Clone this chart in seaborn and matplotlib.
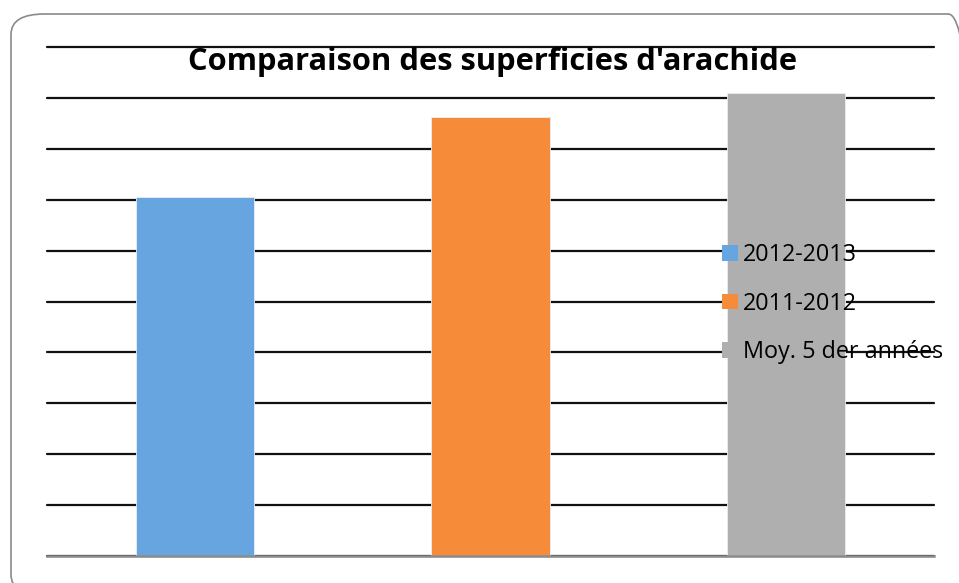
import matplotlib
matplotlib.use("Agg")
import matplotlib.pyplot as plt
from matplotlib.patches import FancyBboxPatch, Patch
import seaborn as sns
import pandas as pd

# values (grid step = 1 unit, no labels shown)
campagnes = ["2012-2013", "2011-2012", "Moy. 5 der années"]
superficies = [7.05, 8.62, 9.10]
couleurs = ["#66A5E0", "#F68B3A", "#AFAFAF"]

df = pd.DataFrame({"campagne": campagnes, "superficie": superficies})

sns.set_style("white")
plt.rcParams["font.family"] = ["Open Sans", "DejaVu Sans"]

W, H = 959, 583
fig = plt.figure(figsize=(W / 100, H / 100), dpi=100)

# rounded frame of the chart area (runs off the right and bottom edges)
frame = FancyBboxPatch((11 / W, -12 / H), 971 / W, (583 - 14 + 12) / H,
                       boxstyle="round,pad=0,rounding_size=0.035",
                       transform=fig.transFigure, facecolor="none",
                       edgecolor="#8a8a8a", linewidth=1.2, zorder=0)
fig.patches.append(frame)

ax = fig.add_axes([47 / W, 1 - 556 / H, (934 - 47) / W, (556 - 47) / H])
ax.patch.set_alpha(0)

sns.barplot(data=df, x="campagne", y="superficie", hue="campagne",
            palette=couleurs, saturation=1, width=0.4, edgecolor="#e8eef5",
            linewidth=0.6, legend=False, ax=ax)

ax.set_ylim(0, 10)
ax.set_xlim(-0.5, 2.5)
ax.set_yticks(range(0, 11))
ax.set_yticklabels([])
ax.set_xticks([])
ax.set_xlabel("")
ax.set_ylabel("")
ax.tick_params(length=0)
ax.grid(axis="y", color="#111111", linewidth=1.6)
ax.set_axisbelow(True)
for gl in ax.get_ygridlines():
    gl.set_clip_on(False)
for s in ["top", "left", "right"]:
    ax.spines[s].set_visible(False)
ax.spines["bottom"].set_color("#8c8c8c")
ax.spines["bottom"].set_linewidth(1.8)

fig.text(493 / W, 1 - 70 / H, "Comparaison des superficies d'arachide",
         ha="center", va="baseline", fontsize=22.2, fontweight="bold",
         color="black")

handles = [Patch(facecolor=c, edgecolor="none") for c in couleurs]
leg = ax.legend(handles, campagnes, loc="upper left",
                bbox_to_anchor=(713 / W, 1 - 234 / H), bbox_transform=fig.transFigure,
                frameon=False, fontsize=16.8, labelcolor="black",
                handlelength=0.65, handleheight=0.65,
                handletextpad=0.22, labelspacing=1.05, borderaxespad=0)

fig.savefig("out.png", dpi=100)
